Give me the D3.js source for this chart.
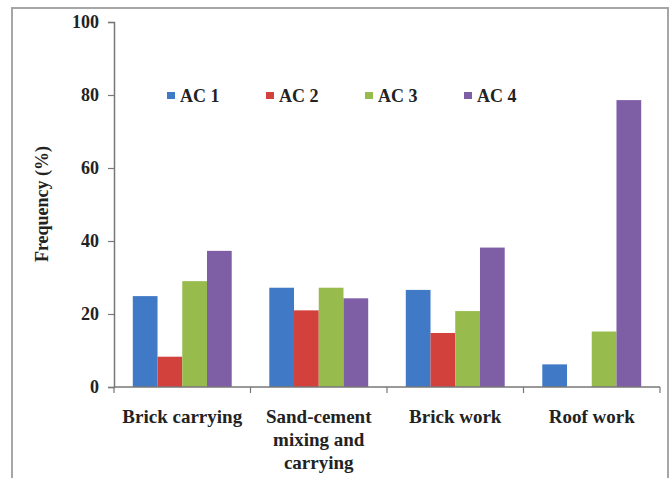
<!DOCTYPE html>
<html><head><meta charset="utf-8">
<script src="https://cdn.jsdelivr.net/npm/d3@7/dist/d3.min.js"></script>
<style>body{margin:0;background:#fff}svg{display:block}</style>
</head><body>
<svg id="c" width="670" height="478"></svg>
<script>
const categories = [["Brick carrying"], ["Sand-cement", "mixing and", "carrying"], ["Brick work"], ["Roof work"]];
const seriesNames = ["AC 1", "AC 2", "AC 3", "AC 4"];
const AC1 = [24.9, 27.2, 26.6, 6.2];
const AC2 = [8.3, 21.0, 14.8, 0];
const AC3 = [29.0, 27.2, 20.8, 15.2];
const AC4 = [37.3, 24.3, 38.2, 78.6];
const colors = ["#4079c5", "#d2413b", "#98bb4e", "#7e5fa5"];
const yTicks = [0, 20, 40, 60, 80, 100];

const series = [AC1, AC2, AC3, AC4];
const svg = d3.select("#c");
const font = "Liberation Serif";

// outer frame
svg.append("rect").attr("x", 12).attr("y", 8).attr("width", 656).attr("height", 490)
  .attr("fill", "none").attr("stroke", "#a6a6a6").attr("stroke-width", 2);

const pLeft = 114, pRight = 660, pTop = 22, pBottom = 387;
const catIdx = d3.range(categories.length);
const x0 = d3.scaleBand().domain(catIdx).range([pLeft, pRight]).padding(0);
const x1 = d3.scaleBand().domain(d3.range(seriesNames.length)).range([0, x0.bandwidth()])
  .paddingInner(0).paddingOuter(0.76);
const y = d3.scaleLinear().domain([0, 100]).range([pBottom, pTop]);

// bars
const g = svg.append("g");
catIdx.forEach(ci => {
  series.forEach((s, si) => {
    g.append("rect")
      .attr("x", x0(ci) + x1(si))
      .attr("y", y(s[ci]))
      .attr("width", x1.bandwidth())
      .attr("height", y(0) - y(s[ci]))
      .attr("fill", colors[si]);
  });
});

// y axis
const yAxis = svg.append("g").attr("transform", `translate(${pLeft},0)`)
  .call(d3.axisLeft(y).tickValues(yTicks).tickSize(6).tickPadding(9));
yAxis.select(".domain").attr("stroke", "#777").attr("stroke-width", 1.5);
yAxis.selectAll(".tick line").attr("stroke", "#777").attr("stroke-width", 1.2);
yAxis.selectAll(".tick text").style("font-family", font).style("font-weight", "bold")
  .style("font-size", "18px").attr("fill", "#222");

// x axis
const xb = svg.append("g").attr("transform", `translate(0,${pBottom})`);
xb.append("line").attr("x1", pLeft).attr("x2", pRight).attr("stroke", "#777").attr("stroke-width", 1.5);
const bounds = catIdx.map(i => x0(i)).concat([pRight]);
xb.selectAll(".tk").data(bounds).enter().append("line")
  .attr("x1", d => d).attr("x2", d => d).attr("y1", 0).attr("y2", 6)
  .attr("stroke", "#777").attr("stroke-width", 1.2);

// category labels
catIdx.forEach(ci => {
  const t = svg.append("text").attr("x", x0(ci) + x0.bandwidth() / 2).attr("y", 423)
    .attr("text-anchor", "middle").style("font-family", font).style("font-weight", "bold")
    .style("font-size", "19px").attr("fill", "#222");
  categories[ci].forEach((line, li) => {
    t.append("tspan").attr("x", x0(ci) + x0.bandwidth() / 2).attr("dy", li === 0 ? 0 : 23).text(line);
  });
});

// y label
svg.append("text").attr("transform", "translate(48,204) rotate(-90)")
  .attr("text-anchor", "middle").style("font-family", font).style("font-weight", "bold")
  .style("font-size", "18px").attr("fill", "#222").text("Frequency (%)");

// legend
const legendX = [167, 266, 365, 464];
seriesNames.forEach((n, i) => {
  svg.append("rect").attr("x", legendX[i]).attr("y", 92).attr("width", 8).attr("height", 7).attr("fill", colors[i]);
  svg.append("text").attr("x", legendX[i] + 13).attr("y", 102).style("font-family", font)
    .style("font-weight", "bold").style("font-size", "18px").attr("fill", "#222").text(n);
});
</script>
</body></html>
